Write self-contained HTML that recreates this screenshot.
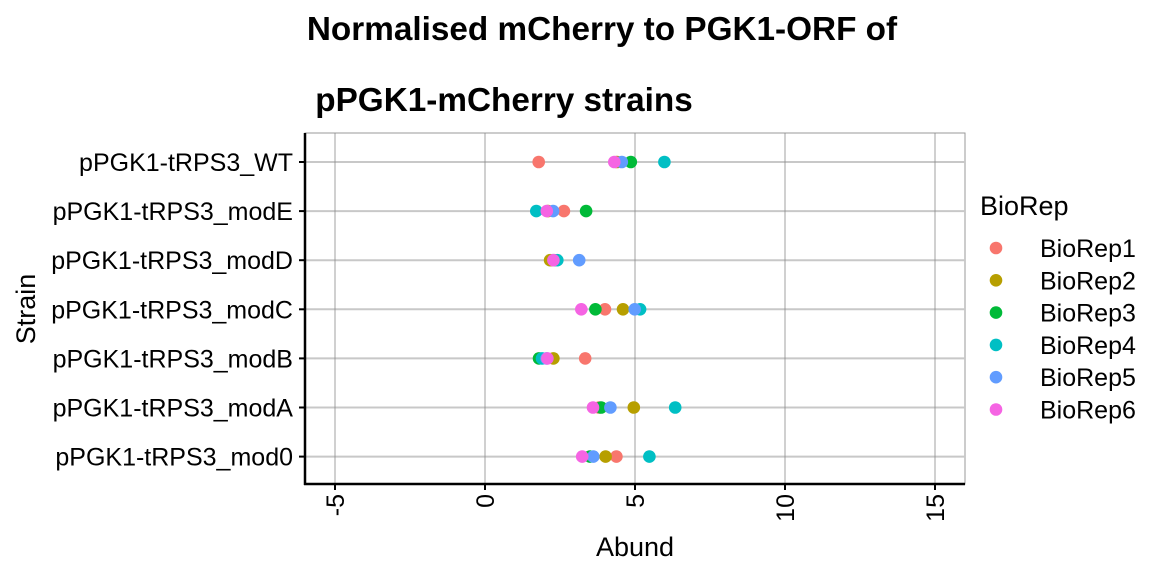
<!DOCTYPE html>
<html><head><meta charset="utf-8"><style>
body{margin:0;background:#fff}
svg text{font-family:"Liberation Sans",Arial,sans-serif}
</style></head><body>
<svg id="chart" width="1152" height="576" xmlns="http://www.w3.org/2000/svg">
<text x="602" y="40" text-anchor="middle" font-size="33.3" font-weight="bold">Normalised mCherry to PGK1-ORF of</text>
<text x="504" y="111" text-anchor="middle" font-size="33.3" font-weight="bold">pPGK1-mCherry strains</text>
<g id="plot"></g>
<text x="635" y="556" text-anchor="middle" font-size="27">Abund</text>
<text transform="translate(35,309) rotate(-90)" text-anchor="middle" font-size="27">Strain</text>
<g id="legend"><text x="980" y="215" font-size="27">BioRep</text></g>
</svg>
<script>
const categories=["pPGK1-tRPS3_WT","pPGK1-tRPS3_modE","pPGK1-tRPS3_modD","pPGK1-tRPS3_modC","pPGK1-tRPS3_modB","pPGK1-tRPS3_modA","pPGK1-tRPS3_mod0"];
const series=["BioRep1","BioRep2","BioRep3","BioRep4","BioRep5","BioRep6"];
const colors=["#F8766D","#B79F00","#00BA38","#00BFC4","#619CFF","#F564E3"];
const rep1=[1.79,2.63,2.25,4.0,3.34,3.8,4.38];
const rep2=[4.4,2.1,2.17,4.6,2.28,4.96,4.02];
const rep3=[4.86,3.37,2.3,3.68,1.8,3.87,3.5];
const rep4=[5.98,1.71,2.41,5.17,1.9,6.34,5.48];
const rep5=[4.56,2.27,3.14,4.99,2.05,4.18,3.61];
const rep6=[4.31,2.06,2.28,3.21,2.08,3.6,3.24];
const values=[rep1,rep2,rep3,rep4,rep5,rep6];
const xTicks=[-5,0,5,10,15];
const NS="http://www.w3.org/2000/svg";
const L=305,R=965,T=133,B=484;
const xs=v=>485+(v)*30;
const ys=i=>162+i*49.1;
const g=document.getElementById('plot');
function mk(t,a,p){const e=document.createElementNS(NS,t);for(const k in a)e.setAttribute(k,a[k]);(p||g).appendChild(e);return e;}
let r=mk('rect',{x:L,y:T,width:R-L,height:B-T,fill:'#fff',stroke:'#999','stroke-width':1});


categories.forEach((c,i)=>{
 let l=mk('line',{x1:L,x2:R,y1:ys(i),y2:ys(i),stroke:'#c8c8c8','stroke-width':2});
 
 
 mk('line',{x1:L-6,x2:L,y1:ys(i),y2:ys(i),stroke:'#000','stroke-width':2});
 let t=mk('text',{x:L-12,y:ys(i)+9,'text-anchor':'end','font-size':25});
 t.textContent=c;
 
 
});
xTicks.forEach(v=>{
 let l=mk('line',{x1:xs(v),x2:xs(v),y1:T,y2:B,stroke:'#8a8a8a','stroke-width':0.8});
 
 
 mk('line',{x1:xs(v),x2:xs(v),y1:B,y2:B+6,stroke:'#000','stroke-width':2});
 let t=mk('text',{transform:`translate(${xs(v)+9},${B+10}) rotate(-90)`,'text-anchor':'end','font-size':25});
 t.textContent=v;
 
 
});
mk('line',{x1:L,x2:L,y1:T,y2:B+1,stroke:'#000','stroke-width':2.5});
mk('line',{x1:L-1,x2:R,y1:B,y2:B,stroke:'#000','stroke-width':2.5});
series.forEach((s,j)=>{
 values[j].forEach((v,i)=>{
  let c=mk('circle',{cx:xs(v),cy:ys(i),r:6.3,fill:colors[j]});
  
  
 });
 const lg=document.getElementById('legend');
 let c=mk('circle',{cx:996,cy:248+j*32.3,r:6.3,fill:colors[j]},lg);
 
 
 let t=mk('text',{x:1040,y:257+j*32.3,'font-size':25},lg);
 t.textContent=s;
 
 
});
</script>
</body></html>
